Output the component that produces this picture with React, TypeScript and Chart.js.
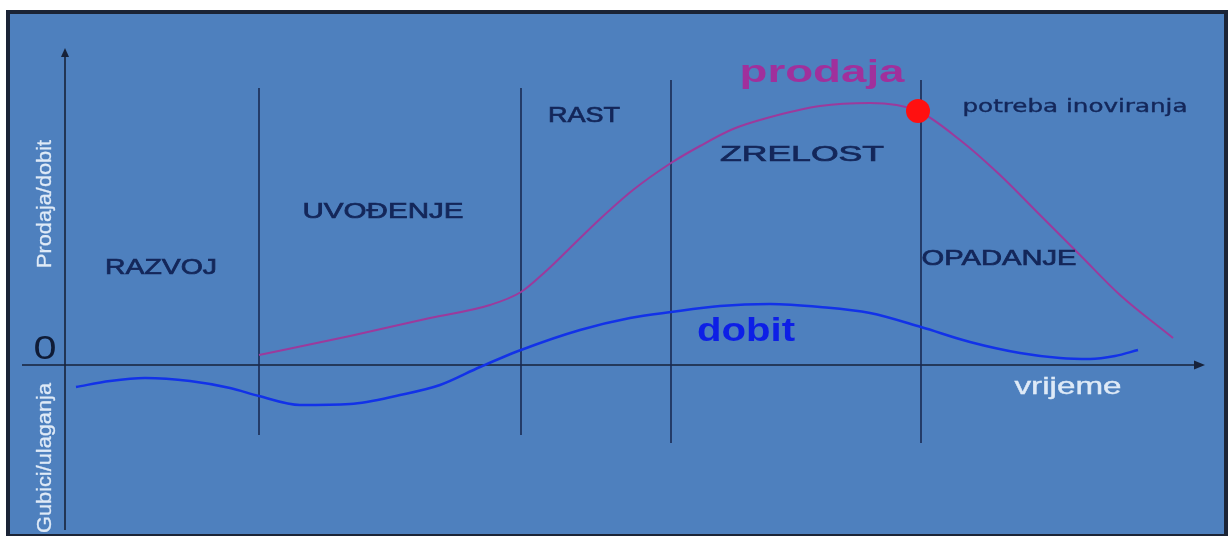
import React, { useEffect, useRef } from "react";
import { Chart, registerables } from "chart.js";

Chart.register(...registerables);

// Time axis (x) and sales / profit (y) values
const salesX = [19.4, 28.5, 36.5, 42.5, 45.6, 48.0, 50.5, 53.5, 56.8, 60.6, 63.5, 66.8, 70.2, 75.5, 80.5, 85.3, 89.5, 93.5, 97.5, 101.5, 105.5, 110.8];
const salesY = [1.0, 2.9, 4.7, 6.0, 7.3, 9.3, 11.7, 14.6, 17.5, 20.2, 21.9, 23.6, 24.7, 25.9, 26.2, 25.4, 22.5, 19.0, 15.0, 11.0, 7.0, 2.7];

const profitX = [1.1, 4.5, 8.0, 12.5, 16.5, 19.4, 23.5, 28.5, 33.5, 37.5, 41.5, 45.6, 51.5, 56.5, 60.6, 65.5, 70.5, 75.5, 80.5, 85.6, 90.5, 95.5, 99.5, 102.5, 105.0, 107.3];
const profitY = [-2.2, -1.6, -1.3, -1.6, -2.3, -3.1, -4.0, -3.9, -3.0, -2.0, -0.2, 1.5, 3.5, 4.7, 5.3, 5.9, 6.1, 5.8, 5.2, 3.8, 2.3, 1.2, 0.7, 0.6, 0.9, 1.5];

// Phase boundaries (vertical lines)
const phaseX = [19.4, 45.6, 60.6, 85.6];
const phaseTop = [27.7, 27.7, 28.5, 28.5];
const phaseBottom = [-7.0, -7.0, -7.8, -7.8];

// Innovation point
const innovX = [85.3];
const innovY = [25.4];

// Phase labels
const phaseNames = ["RAZVOJ", "UVOĐENJE", "RAST", "ZRELOST", "OPADANJE"];
const phaseLabelX = [9.6, 31.8, 51.9, 73.7, 93.4];
const phaseLabelY = [9.7, 15.3, 24.9, 21.0, 10.6];
const phaseLabelW = [112, 161, 72, 164, 155];

const X_MIN = 0, X_MAX = 114, Y_MIN = -16.5, Y_MAX = 32;

const NAVY = "#14275a";
const LIGHT = "#dfeaf7";

type Ann = { text: string; x: number; y: number; font: string; color: string; width: number; rotate?: boolean; stroke?: number };

const annotations: Ann[] = [
  ...phaseNames.map((t, i) => ({ text: t, x: phaseLabelX[i], y: phaseLabelY[i], font: "22px 'Liberation Sans', Arial, sans-serif", color: NAVY, width: phaseLabelW[i], stroke: 0.7 })),
  { text: "prodaja", x: 75.7, y: 29.2, font: "bold 31px 'Liberation Sans', Arial, sans-serif", color: "#a0309c", width: 165 },
  { text: "dobit", x: 68.1, y: 3.3, font: "bold 33px 'Liberation Sans', Arial, sans-serif", color: "#0d1fe6", width: 98 },
  { text: "potreba inoviranja", x: 101.0, y: 25.8, font: "18px 'DejaVu Sans', Verdana, sans-serif", color: NAVY, width: 225, stroke: 0.4 },
  { text: "0", x: -2.0, y: 1.5, font: "34px 'Liberation Sans', Arial, sans-serif", color: "#0f1b36", width: 23 },
  { text: "vrijeme", x: 100.3, y: -2.2, font: "24px 'Liberation Sans', Arial, sans-serif", color: LIGHT, width: 107, stroke: 0.4 },
  { text: "Prodaja/dobit", x: -2.0, y: 16.1, font: "21px 'Liberation Sans', Arial, sans-serif", color: LIGHT, width: 128, rotate: true, stroke: 0.3 },
  { text: "Gubici/ulaganja", x: -2.0, y: -9.3, font: "21px 'Liberation Sans', Arial, sans-serif", color: LIGHT, width: 150, rotate: true, stroke: 0.3 },
];

const backgroundPlugin = {
  id: "bgFrame",
  beforeDraw(chart: any) {
    const { ctx, width, height } = chart;
    ctx.save();
    ctx.fillStyle = "#ffffff";
    ctx.fillRect(0, 0, width, height);
    ctx.fillStyle = "#1b2436";
    ctx.fillRect(6, 10, 1222, 526);
    ctx.fillStyle = "#4e80be";
    ctx.fillRect(10, 14, 1214, 520);
    ctx.restore();
  },
};

const axesPlugin = {
  id: "axesArrows",
  beforeDatasetsDraw(chart: any) {
    const { ctx } = chart;
    const xs = chart.scales.x;
    const ys = chart.scales.y;
    const x0 = xs.getPixelForValue(0);
    const y0 = ys.getPixelForValue(0);
    ctx.save();
    ctx.strokeStyle = "#17223a";
    ctx.fillStyle = "#17223a";
    ctx.lineWidth = 1.6;
    const yTop = ys.getPixelForValue(Y_MAX) + 3;
    ctx.beginPath();
    ctx.moveTo(x0, ys.getPixelForValue(Y_MIN));
    ctx.lineTo(x0, yTop + 6);
    ctx.stroke();
    ctx.beginPath();
    ctx.moveTo(x0, yTop);
    ctx.lineTo(x0 - 4, yTop + 9);
    ctx.lineTo(x0 + 4, yTop + 9);
    ctx.closePath();
    ctx.fill();
    const xRight = xs.getPixelForValue(X_MAX);
    ctx.beginPath();
    ctx.moveTo(xs.getPixelForValue(-4.3), y0);
    ctx.lineTo(xRight - 6, y0);
    ctx.stroke();
    ctx.beginPath();
    ctx.moveTo(xRight, y0);
    ctx.lineTo(xRight - 11, y0 - 4.5);
    ctx.lineTo(xRight - 11, y0 + 4.5);
    ctx.closePath();
    ctx.fill();
    ctx.restore();
  },
};

const textPlugin = {
  id: "texts",
  afterDatasetsDraw(chart: any) {
    const { ctx } = chart;
    const xs = chart.scales.x;
    const ys = chart.scales.y;
    annotations.forEach((a) => {
      ctx.save();
      ctx.font = a.font;
      ctx.fillStyle = a.color;
      ctx.strokeStyle = a.color;
      ctx.textAlign = "center";
      ctx.textBaseline = "middle";
      const m = ctx.measureText(a.text).width;
      const sx = m > 0 ? a.width / m : 1;
      ctx.translate(xs.getPixelForValue(a.x), ys.getPixelForValue(a.y));
      if (a.rotate) ctx.rotate(-Math.PI / 2);
      ctx.scale(sx, 1);
      ctx.fillText(a.text, 0, 0);
      if (a.stroke) {
        ctx.lineWidth = a.stroke;
        ctx.strokeText(a.text, 0, 0);
      }
      ctx.restore();
    });
  },
};

export default function App() {
  const ref = useRef<HTMLCanvasElement>(null);
  useEffect(() => {
    if (!ref.current) return;
    const phaseSets = phaseX.map((px, i) => ({
      type: "line" as const,
      data: [
        { x: px, y: phaseBottom[i] },
        { x: px, y: phaseTop[i] },
      ],
      borderColor: "#1a2a52",
      borderWidth: 1.6,
      pointRadius: 0,
      tension: 0,
      order: 3,
    }));
    const chart = new Chart(ref.current, {
      type: "line",
      data: {
        datasets: [
          {
            label: "potreba inoviranja",
            data: innovX.map((x, i) => ({ x, y: innovY[i] })),
            showLine: false,
            pointRadius: 12,
            pointBackgroundColor: "#ff1010",
            pointBorderWidth: 0,
            order: 0,
          },
          {
            label: "prodaja",
            data: salesX.map((x, i) => ({ x, y: salesY[i] })),
            borderColor: "#9c3a9c",
            borderWidth: 2,
            pointRadius: 0,
            cubicInterpolationMode: "monotone",
            order: 1,
          },
          {
            label: "dobit",
            data: profitX.map((x, i) => ({ x, y: profitY[i] })),
            borderColor: "#1232e8",
            borderWidth: 2.5,
            pointRadius: 0,
            cubicInterpolationMode: "monotone",
            order: 2,
          },
          ...phaseSets,
        ] as any,
      },
      options: {
        responsive: false,
        animation: false,
        devicePixelRatio: 1,
        layout: { padding: { left: 65, right: 24, top: 45, bottom: 13 } },
        plugins: { legend: { display: false }, tooltip: { enabled: false } },
        scales: {
          x: { type: "linear", min: X_MIN, max: X_MAX, display: false },
          y: { type: "linear", min: Y_MIN, max: Y_MAX, display: false },
        },
      } as any,
      plugins: [backgroundPlugin, axesPlugin, textPlugin],
    });
    return () => chart.destroy();
  }, []);
  return (
    <div style={{ position: "absolute", left: 0, top: 0, width: 1229, height: 543 }}>
      <canvas ref={ref} width={1229} height={543} />
    </div>
  );
}
